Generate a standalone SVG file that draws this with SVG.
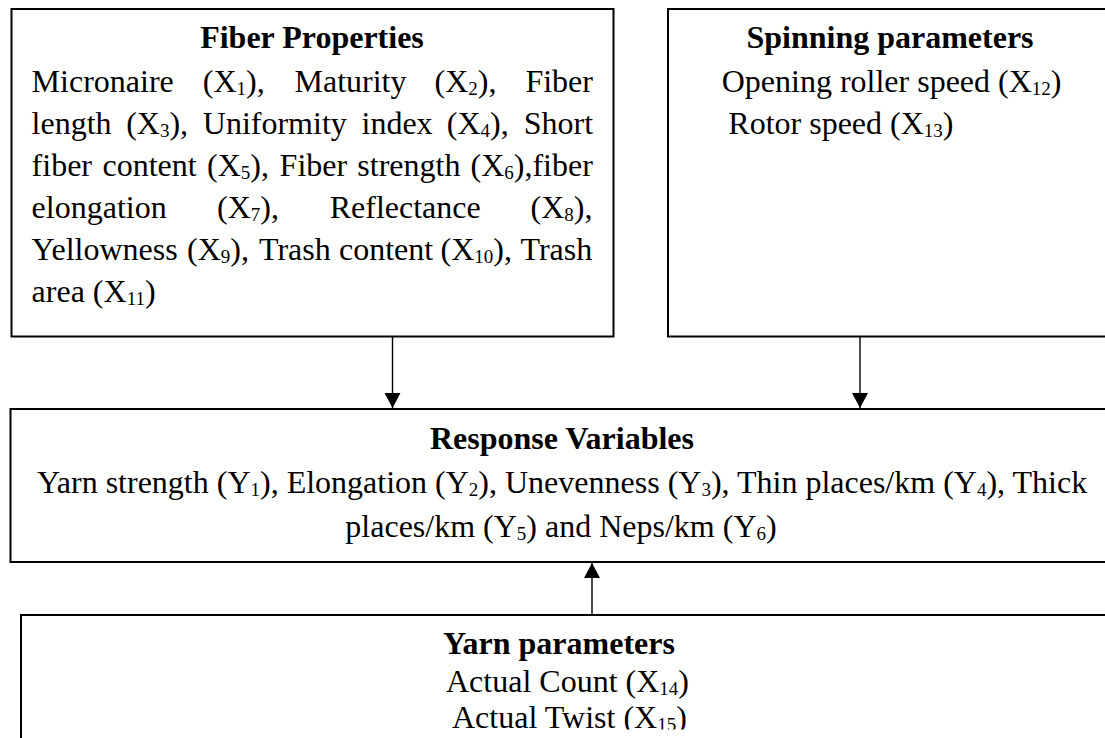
<svg xmlns="http://www.w3.org/2000/svg" width="1105" height="738" viewBox="0 0 1105 738">
<defs>
<style>
.box{fill:#fff;stroke:#000;stroke-width:2}
.t{font-family:"Liberation Serif","Times New Roman",serif;font-size:32px;fill:#000}
.b{font-weight:bold}
.s{font-size:19px}
.c{stroke:#000;stroke-width:1.4;fill:none}
</style>
<marker id="ahd" markerUnits="userSpaceOnUse" markerWidth="16" markerHeight="15" viewBox="0 0 16 15" refX="8" refY="15" orient="0">
<path d="M0,0 L16,0 L8,15 Z" fill="#000"/>
</marker>
<marker id="ahu" markerUnits="userSpaceOnUse" markerWidth="16" markerHeight="15" viewBox="0 0 16 15" refX="8" refY="0" orient="0">
<path d="M0,15 L16,15 L8,0 Z" fill="#000"/>
</marker>
<clipPath id="yclip"><rect x="0" y="600" width="1105" height="129.5"/></clipPath>
</defs>
<rect width="1105" height="738" fill="#fff"/>

<g id="fiber">
<rect class="box" x="11.5" y="9" width="602" height="327.5"/>
<text class="t b" x="312" y="48" text-anchor="middle">Fiber Properties</text>
<text class="t" y="92"><tspan x="31.6">Micronaire</tspan><tspan x="202.8">(X<tspan class="s" dy="3">1</tspan><tspan dy="-3">),</tspan></tspan><tspan x="294.5">Maturity</tspan><tspan x="434.5">(X<tspan class="s" dy="3">2</tspan><tspan dy="-3">),</tspan></tspan><tspan x="525.4">Fiber</tspan></text>
<text class="t" y="134"><tspan x="31.6">length</tspan><tspan x="126.2">(X<tspan class="s" dy="3">3</tspan><tspan dy="-3">),</tspan></tspan><tspan x="202.8">Uniformity</tspan><tspan x="361.5">index</tspan><tspan x="446.8">(X<tspan class="s" dy="3">4</tspan><tspan dy="-3">),</tspan></tspan><tspan x="523.8">Short</tspan></text>
<text class="t" y="176"><tspan x="31.6">fiber</tspan><tspan x="102.5">content</tspan><tspan x="207">(X<tspan class="s" dy="3">5</tspan><tspan dy="-3">),</tspan></tspan><tspan x="279.6">Fiber</tspan><tspan x="357.3">strength</tspan><tspan x="470.5">(X<tspan class="s" dy="3">6</tspan><tspan dy="-3">),fiber</tspan></tspan></text>
<text class="t" y="218"><tspan x="31.6">elongation</tspan><tspan x="217">(X<tspan class="s" dy="3">7</tspan><tspan dy="-3">),</tspan></tspan><tspan x="329.7">Reflectance</tspan><tspan x="530.5">(X<tspan class="s" dy="3">8</tspan><tspan dy="-3">),</tspan></tspan></text>
<text class="t" y="260"><tspan x="31.6">Yellowness</tspan><tspan x="187">(X<tspan class="s" dy="3">9</tspan><tspan dy="-3">),</tspan></tspan><tspan x="259">Trash</tspan><tspan x="339">content</tspan><tspan x="440.5">(X<tspan class="s" dy="3">10</tspan><tspan dy="-3">),</tspan></tspan><tspan x="520.5">Trash</tspan></text>
<text class="t" x="31.6" y="302">area (X<tspan class="s" dy="3">11</tspan><tspan dy="-3">)</tspan></text>
</g>

<g id="spinning">
<rect class="box" x="668" y="9" width="460" height="327.5"/>
<text class="t b" x="890" y="48" text-anchor="middle">Spinning parameters</text>
<text class="t" x="721.7" y="92">Opening roller speed (X<tspan class="s" dy="3">12</tspan><tspan dy="-3">)</tspan></text>
<text class="t" x="728.3" y="134">Rotor speed (X<tspan class="s" dy="3">13</tspan><tspan dy="-3">)</tspan></text>
</g>

<g id="response">
<rect class="box" x="10.5" y="409" width="1110" height="153"/>
<text class="t b" x="562" y="449" text-anchor="middle">Response Variables</text>
<text class="t" x="562" y="493" text-anchor="middle">Yarn strength (Y<tspan class="s" dy="3">1</tspan><tspan dy="-3">), Elongation (Y</tspan><tspan class="s" dy="3">2</tspan><tspan dy="-3">), Unevenness (Y</tspan><tspan class="s" dy="3">3</tspan><tspan dy="-3">), Thin places/km (Y</tspan><tspan class="s" dy="3">4</tspan><tspan dy="-3">), Thick</tspan></text>
<text class="t" x="561" y="537" text-anchor="middle">places/km (Y<tspan class="s" dy="3">5</tspan><tspan dy="-3">) and Neps/km (Y</tspan><tspan class="s" dy="3">6</tspan><tspan dy="-3">)</tspan></text>
</g>

<g id="yarn">
<rect class="box" x="21" y="615" width="1100" height="200"/>
<g clip-path="url(#yclip)">
<text class="t b" x="443" y="654">Yarn parameters</text>
<text class="t" x="446" y="692">Actual Count (X<tspan class="s" dy="3">14</tspan><tspan dy="-3">)</tspan></text>
<text class="t" x="452" y="728">Actual Twist (X<tspan class="s" dy="3">15</tspan><tspan dy="-3">)</tspan></text>
</g>
</g>

<g id="connectors">
<line class="c" x1="392.5" y1="337" x2="392.5" y2="408" marker-end="url(#ahd)"/>
<line class="c" x1="860" y1="337" x2="860" y2="408" marker-end="url(#ahd)"/>
<line class="c" x1="592" y1="614" x2="592" y2="563" marker-end="url(#ahu)"/>
</g>
</svg>
